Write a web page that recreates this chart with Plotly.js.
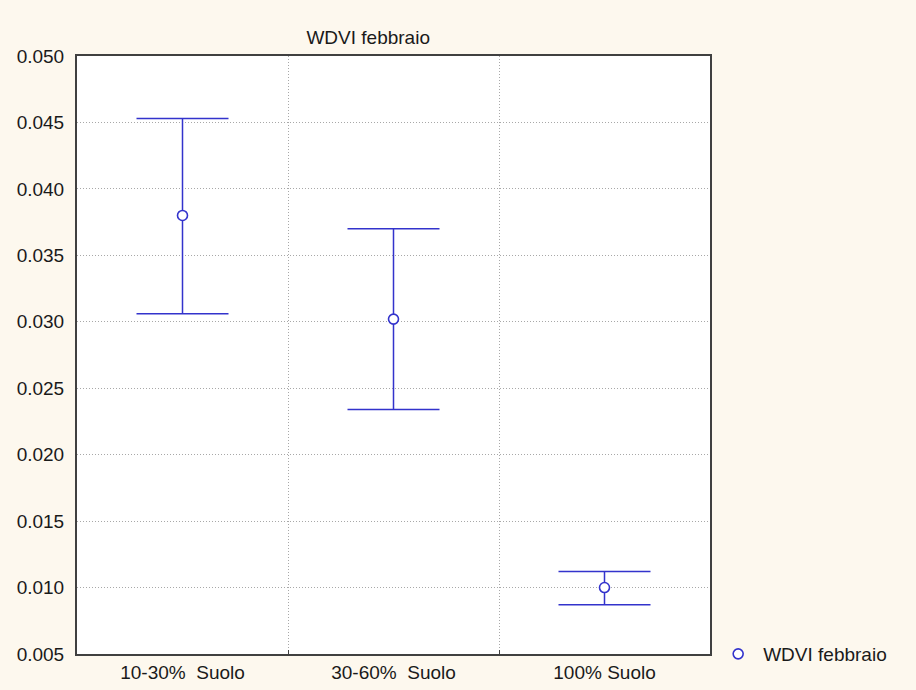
<!DOCTYPE html>
<html>
<head>
<meta charset="utf-8">
<script src="https://cdn.plot.ly/plotly-3.0.1.min.js"></script>
<style>html,body{margin:0;padding:0;background:#FDF8EE;}</style>
</head>
<body>
<div id="chart" style="width:916px;height:690px;"></div>
<script>
const categories = ["10-30%\u00a0\u00a0Suolo", "30-60%\u00a0\u00a0Suolo", "100%\u00a0Suolo"];
const means = [0.0380, 0.0302, 0.0100];
const upper = [0.0453, 0.0370, 0.0112];
const lower = [0.0306, 0.0234, 0.0087];
const seriesName = "WDVI febbraio";
const yTicks = [0.005, 0.010, 0.015, 0.020, 0.025, 0.030, 0.035, 0.040, 0.045, 0.050];

const plus = means.map((m, i) => upper[i] - m);
const minus = means.map((m, i) => m - lower[i]);
const blue = "#3333CC";
const font = "Liberation Sans, Arial, sans-serif";
const txt = "#1a1a1a";

const trace = {
  type: "scatter",
  mode: "markers",
  name: seriesName,
  x: categories,
  y: means,
  marker: {symbol: "circle", size: 10, color: "#FFFFFF", line: {width: 1.6, color: blue}},
  error_y: {type: "data", symmetric: false, array: plus, arrayminus: minus, color: blue, thickness: 1.5, width: 46}
};

const layout = {
  width: 916, height: 690,
  paper_bgcolor: "#FDF8EE",
  plot_bgcolor: "#FFFFFF",
  margin: {l: 77, r: 206, t: 56, b: 36},
  font: {family: font, size: 19, color: txt},
  title: {text: "WDVI febbraio", font: {family: font, size: 19, color: txt}, xref: "paper", x: 0.46, xanchor: "center", yref: "container", y: 1 - 37/690, yanchor: "middle"},
  xaxis: {
    type: "category", range: [-0.5, 2.5], tickson: "boundaries",
    showgrid: true, gridcolor: "#A8A8A8", griddash: "1px,2px", gridwidth: 1,
    showline: true, mirror: true, linecolor: "#404040", linewidth: 2,
    ticks: "inside", ticklen: 4, tickcolor: "#404040",
    tickfont: {family: font, size: 19, color: txt}, fixedrange: true
  },
  yaxis: {
    range: [0.005, 0.050], tickvals: yTicks, tickformat: ".3f",
    showgrid: true, gridcolor: "#A8A8A8", griddash: "1px,2px", gridwidth: 1,
    zeroline: false,
    showline: true, mirror: true, linecolor: "#404040", linewidth: 2,
    ticks: "", ticklabelstandoff: 7,
    tickfont: {family: font, size: 19, color: txt}, fixedrange: true
  },
  showlegend: true,
  legend: {x: 1.005, xanchor: "left", y: 0.0, yanchor: "middle", itemwidth: 40, bgcolor: "rgba(0,0,0,0)", font: {family: font, size: 19, color: txt}}
};

Plotly.newPlot("chart", [trace], layout, {displayModeBar: false, staticPlot: true});
</script>
</body>
</html>
